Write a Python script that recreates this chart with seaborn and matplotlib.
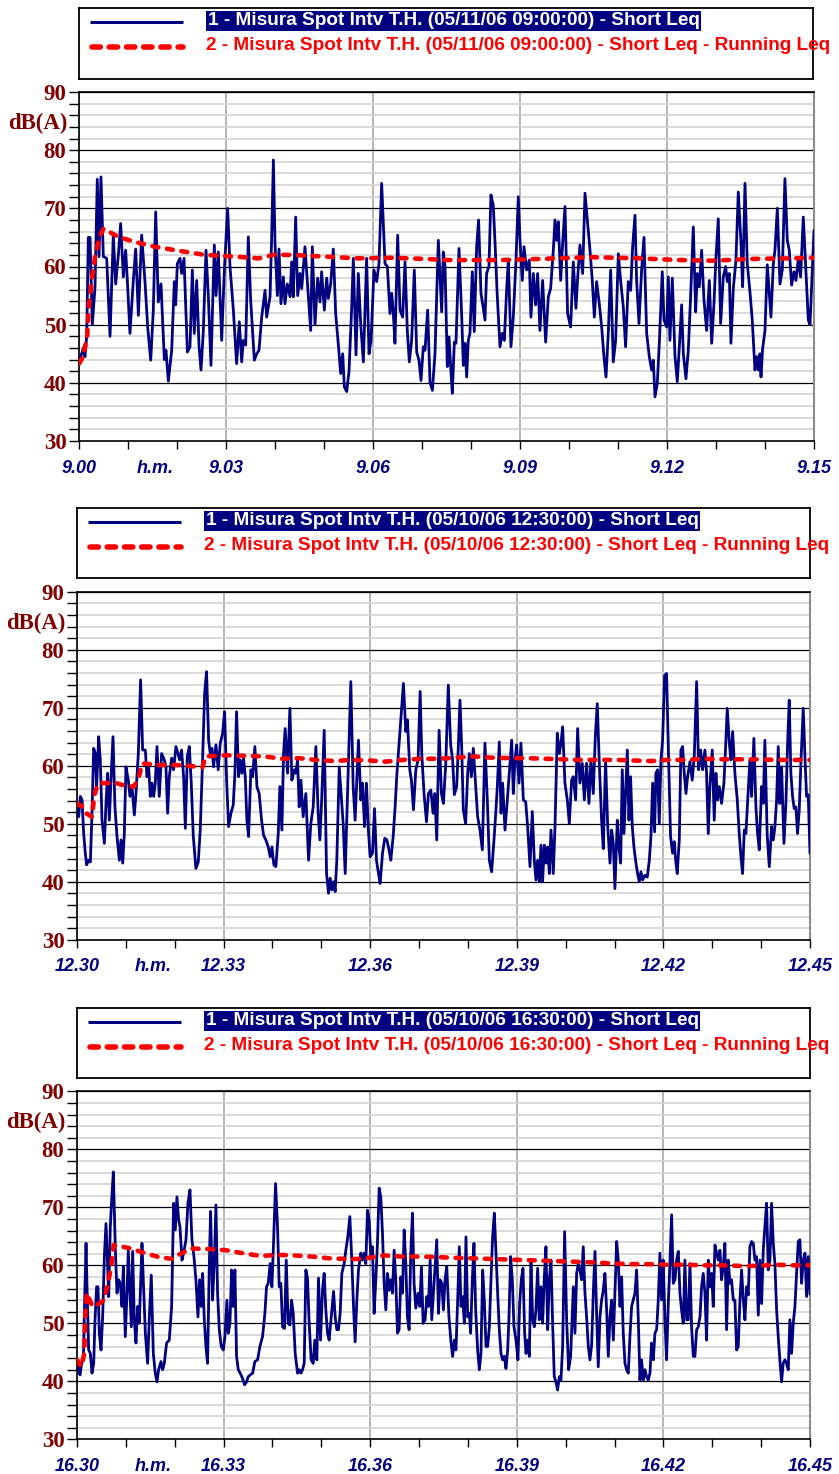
import numpy as np
import matplotlib
matplotlib.use("Agg")
import matplotlib.pyplot as plt
import seaborn as sns
from matplotlib.ticker import FixedLocator, FixedFormatter, MultipleLocator, NullFormatter

# ---------------- data (seconds from start, dB(A)) ----------------
# Panel 1 : 05/11/06 09:00:00
t1 = [0,3.3,5.3,7.3,9.4,11.4,13.5,16.3,19.6,22.4,
      24.5,26.9,29.8,33.9,38,42,44.9,48.2,51,54.3,
      57.1,59.2,62.4,66.5,69.4,72.7,76.7,80.8,84.1,87.8,
      91,93.9,97.1,100.4,104.5,106.5,109.4,113.5,116.7,118.4,
      120.4,123.7,125.7,128.6,132.7,135.9,138.8,141.2,144.1,146.9,
      149.4,152.2,155.5,158.4,161.6,165.7,167.8,170.6,174.7,178,
      182,184.9,189,193,196.3,199.2,201.2,204.1,207.3,210.2,
      214.7,217.6,220.4,223.7,227.8,229.8,233.9,235.9,238,240,
      242.9,244.9,247.3,250.2,252.2,255.1,258.4,260.4,262.4,265.3,
      267.8,270.6,272.7,276.7,280.8,283.7,285.7,289,292.2,295.1,
      297.1,300.4,303.3,305.3,308.2,311.4,314.3,317.6,320.4,322.9,
      324.9,327.8,330.6,333.9,335.9,339.2,342,344.9,348.2,352.2,
      355.1,357.6,361.2,364.5,367.3,370.6,374.7,377.6,380.8,382.9,
      384.9,386.9,390.2,393.1,396.3,399.2,402,404.5,407.3,410.6,
      413.5,416.3,418.8,421.6,423.7,426.9,429.8,432.7,435.9,440,
      444.1,446.1,448.2,451,453.1,455.1,457.1,459.6,461.6,465.3,
      468.5,470.6,472.6,474.7,476.7,478.7,481.6,484,486.9,489.3,
      492.2,494.2,497.1,499.1,502,504.4,507.3,509.3,512.2,515.5,
      518.3,520.8,523.6,525.7,528.9,531.8,535.1,537.9,540,542.8,
      544.9,548.1,551.4,553.4,556.3,559.1,561.6,564.4,567.7,571.4,
      574.7,577.5,580.8,582.8,584.9,586.9,589.8,592.2,595.1,598.3,
      602,605.3,608.5,610.6,613.4,616.7,619.6,622.4,625.7,628.5,
      631,633.8,637.1,640,642.8,645.3,648.1,651,654.2,657.1,
      660.4,663.2,666.5,669.3,672.6,675.5,677.9,680.8,682.8,685.7,
      688.9,691.8,695.1,698.3,701.2,703.2,705.3,708.1,710.6,714.2,
      716.3,719.6,721.6,723.6,726.5,729.8,732.6,735.1,737.9,740,
      743.2,746.1,748.9,752.2,755.1,757.1,759.6,762.4,765.3,768.5,
      771.8,774.7,777.5,780,782.8,785.7,788.9,791.8,793.8,796.3,
      798.3,801.2,804.4,807.3,810.6,812.6,815.5,818.3,821.6,824.4,
      827.7,829.8,831.8,833.8,835.1,837.1,840,842.8,845.3,847.3,
      850.2,852.2,855.1,858.3,861.2,864.4,867.3,869.7,872.6,875.5,
      877.9,880.8,883.6,886.9,890.2,893,895.1,900]
v1 = [44,45,46,44.5,48,65,65,50,56.5,75,
      61.7,75.4,61.7,61.4,48,65.4,57,62,67.4,58.2,
      62.8,57.6,48.5,57.6,63,51.6,65.4,57.4,49.6,43.9,
      52.5,69.4,53.9,57,44,45.6,40.3,45.6,57.4,53.4,
      60.5,61.4,58.8,61.4,45.3,46.2,59.4,48.5,57.6,46.5,
      42.2,48.8,62.8,54.8,43,63.7,55,62.5,47.3,59.4,
      70,60,52.5,43.3,50.5,43.6,47.3,46.5,65.1,54.2,
      43.9,45,45.6,51.3,55.9,51.3,54.8,65,78.3,64,
      55,63,53.6,58.2,53.6,57,54.8,60.8,54.8,68.5,
      55,58.8,56.2,63.4,54.8,49,63.4,50,58,53.9,
      59.1,52.5,58,54.5,57,63,51.9,46.5,41.6,45,
      39.3,38.5,41.9,53,61.4,44.8,58.8,50.2,43.6,61.4,
      45,47.3,59.4,57.4,60.5,74.3,60.5,60,51.9,55.4,
      51.9,46.8,65.4,52.5,51.3,60.8,49,43.6,47.3,59.4,
      45.3,43.9,40.4,46.2,45.6,52.5,40.1,38.7,45,64.5,
      52.2,62.5,60,42.8,47.9,42.8,38.2,47,46.8,63.1,
      51.9,43,46.8,41,47.3,48.5,59.1,48.8,63.4,68,
      55.4,53.6,50.8,58.8,60,72.3,70.5,64.5,54.8,46.2,
      48.5,47.3,55.9,61.1,46.2,51.3,61.1,72,64.5,57.6,
      63.4,59.4,61.1,51.3,58.8,53.4,58.8,49,57.6,47,
      54.8,56.2,62.8,68,64.5,67.7,57.6,64,70.3,51.9,
      49.6,60.8,52.8,58,63.7,58.8,72.6,68.2,62.8,57.6,
      51.3,57.4,53.6,49.6,44.5,41,48.5,59.4,43.6,47.3,
      62.2,57.6,53,46.2,57.4,55.9,63.4,68.8,57.6,50.2,
      59.4,65,48.5,44.5,42.2,43.9,37.6,39.9,46.8,59.1,
      50.8,49.6,58.2,47.3,58,44.5,40.2,46.2,53.4,45,
      40.7,45.6,54.8,66.8,52.2,58.8,56.5,62.8,54.2,49,
      57.6,46.8,53.6,61.7,68.2,50.2,58.2,60,57.4,58.8,
      46.8,56.2,61.1,72.8,64,56.5,74.3,60.5,55.6,50.8,
      42.2,44.5,42.2,45,41,45.9,49,60.3,55.4,51.3,
      60.5,62.8,70,57,59.4,75.1,64.5,62.8,56.8,59.1,
      57.6,61.4,58.2,68.5,58.8,50.8,50,66.2]
r1_t = [0,5,10,12,15,20,25,30,48,69,93,118,154,191,220,238,260,301,342,383,
        424,452,515,564,626,687,736,777,822,871,900]
r1_v = [43.3,44.5,48,53,57,62,65,66.5,65.1,64.2,63.4,62.8,62.0,61.7,61.4,62.0,62.0,61.7,61.4,61.5,
        61.3,61.1,61.1,61.3,61.6,61.4,61.1,61.0,61.3,61.4,61.5]

# Panel 2 : 05/10/06 12:30:00
t2 = [0,2.1,4.1,6.2,8.2,10.2,11.9,14.3,16.4,18.4,
      20.5,22.5,24.1,26.6,28.6,30.7,33.6,35.6,37.6,39.7,
      41.7,44.2,46.6,49.1,52,54,56.1,58.1,60.1,63,
      65,67.5,70.4,72.4,75.3,78.1,80.6,83.9,85.9,88,
      90,92,94.1,96.1,98.2,101,103.9,107.2,109.2,111.3,
      113.3,116.2,118.6,121.5,124,126,128.4,130.9,133,135.4,
      137.9,140.3,142.8,146,148.9,151.3,154.2,156.7,159.1,161.6,
      163.6,165.7,167.7,170.6,173.4,175.9,178.8,181.2,183.7,186.1,
      189,191.8,193.9,195.9,198.4,200.4,202.5,204.5,206.6,208.6,
      210.7,213.5,215.6,218.4,220.9,223.7,226.6,229.1,231.9,234.8,
      237.2,239.3,241.7,244.2,247.1,249.1,251.6,253.6,255.6,258.5,
      261.4,263.8,266.7,268.7,270.8,272.8,274.9,277.7,281,284.3,
      287.1,290,293.3,296.1,298.2,300.6,303.5,306.4,308.8,310.9,
      312.9,315,317,319,322,324.8,326.8,329.3,332.1,334.2,
      336.2,339.1,341.5,343.6,345.6,348.5,350.5,353,355.4,357.5,
      359.9,362.8,365.3,367.7,370.2,372.2,375.1,377.9,380.4,382.4,
      385.3,388.2,390.6,392.7,395.5,398.4,400.8,403.7,405.7,408.6,
      410.6,413.1,416,418.8,421.3,423.3,426.2,429.1,431.5,434.4,
      437.2,439.3,441.7,444.6,447.5,449.9,452.8,455.9,458.8,461.2,
      463.3,466.2,468.2,470.2,472.3,474.3,477.2,479.7,481.7,484.2,
      486.6,489.5,491.9,494.8,497.7,500.9,503.8,506.3,509.1,512,
      514.4,516.1,518.5,520.6,522.6,525.5,528.4,530.8,533.7,535.7,
      537.8,539.8,542.7,545.1,548,550.9,553.3,556.2,559,561.5,
      563.5,565.6,567.6,569.7,571.7,573.8,575.8,577.9,579.9,582,
      584.8,586.9,589.7,592.2,594.2,596.3,599.1,602,604.5,607.3,
      609.4,612.2,614.7,617.5,620.4,622.9,625.7,628.6,631,633.9,
      636.4,638.8,641.3,644.1,646.2,649,651.5,654.4,656.4,658.5,
      660.5,663.4,665.4,667.5,669.5,671.6,673.6,675.7,677.7,679.7,
      681.8,683.8,686.3,688.3,690.4,692.4,694.5,697.3,700.2,702.7,
      704.7,706.8,709.2,710.8,712.9,714.9,717,719,721.5,723.9,
      726.4,728.8,731.3,733.3,735.4,737,739.5,741.5,743.6,745.6,
      747.7,749.7,752.6,755.4,757.9,760.8,763.2,765.7,768.1,771,
      773,775.1,777.1,780,782.4,784.5,786.5,788.6,791.4,794.3,
      796.4,798.4,800.9,802.9,805,807.8,810.7,813.1,815.2,817.2,
      819.3,821.3,824.2,826.2,828.3,831.1,833.6,835.6,837.7,840.5,
      842.6,844.6,847.5,850,852.8,854.9,856.9,859,861,863,
      865.1,868,870.4,872.5,874.5,876.5,878.6,880.6,882.7,884.7,
      886.8,888.8,891.7,894.1,895.8,897.8,900]
v2 = [52.1,51.2,54.7,54.1,48.3,44.9,42.9,43.7,43.4,51.8,
      63,62.1,56.4,65,61,50.6,46.6,53.5,58.7,50.6,
      57.5,65,52.9,47.8,43.7,47.2,43.2,48.3,59.8,57.5,
      54.7,56.4,51.5,55.2,62.1,74.8,62.7,62.7,58.1,59.8,
      54.7,57,54.7,57,63.3,54.7,62.1,61,59.8,51.8,
      58.1,61.3,59.3,63.3,62.1,61,62.7,58.1,49.2,61.6,
      63.3,57,47.8,42.3,43.4,48.9,61,72.5,76.2,64.4,
      62.1,63,59.8,63.6,59.3,63.9,65.6,69.3,57.5,49.5,
      51.8,53.2,58.7,69.3,58.1,61,58.7,61.3,58.1,50.6,
      47.8,59.3,58.1,63.3,56.4,55.2,50.6,48,47.2,46,
      44.3,46,42.9,42.6,48.3,56.4,48.9,62.1,66.4,58.7,
      69.9,57.5,59.3,58.7,61,52.9,57.5,51.2,55.2,43.7,
      50,52.9,63.3,51.8,47.2,54.7,66.1,41.4,38,40.6,
      38.6,40,38.3,43.7,59.8,54.1,50,41.4,55.2,65,
      74.5,56.4,50.6,57.5,64.4,54.1,57,49.5,57,49.5,
      44.3,44.9,52.6,43.7,41.4,39.7,44.9,47.5,47.2,46,
      43.7,47.8,52.9,58.4,63.9,69.6,74.2,65.9,67.9,59.3,
      57.5,52.4,59.3,61,72.8,62.1,55,50.3,55.2,55.8,
      51.8,55.2,47.2,66.1,55.2,53.5,60.4,73.9,63.6,61,
      55,56.4,63.3,71.3,63.3,52.4,50,58.7,62.1,58.1,
      63,56.4,51.2,48.9,45.5,63.9,54.1,43.7,41.7,47.2,
      52.4,56.4,64.1,51.8,57,48.9,54.1,58.7,64.4,55.2,
      61,63.6,57,63.9,54.1,53.8,49.5,42.6,52.1,43.7,
      40.3,43.7,40,46.3,40,46.3,43.2,46,41.4,48.9,
      41.4,49.5,65.6,62.1,63.9,66.7,57,54.1,50,57.5,
      58.1,54.1,66.4,57,60.4,54.1,60.4,53.5,61,55.2,
      65,70.7,60.4,50.6,45.7,61,50,43.2,48.9,46.6,
      38.8,50.6,46,43.2,59.3,48.3,55.2,62.7,50.6,58.1,
      49.5,46,43.2,41.4,40,41.7,40.3,41.1,40.8,43.7,
      47.8,57,48.6,58.7,59.3,50,61,64.4,75.6,75.9,
      61,47.8,44.9,46.9,43.2,41.4,47.2,62.7,63.3,58.7,
      55.2,58.1,60.7,57.5,61.6,74.5,59.3,62.7,59.3,62.7,
      58.7,48.3,56.4,62.7,50.6,58.7,54.1,56.4,53.5,57,
      63.3,69.9,63.9,61,65.9,58.7,54.1,48.3,44.3,41.4,
      48.9,48.3,55.8,61,54.7,64.7,52.9,48.3,45.5,56.4,
      53.5,64.4,47.8,42.6,49.5,47.2,49.5,54.1,63.3,53.5,
      59.8,46.6,53.5,63.9,71.3,58.7,54.7,52.6,52.9,48.3,
      52.4,60.4,69.9,60.4,54.7,55,44.9]
r2_t = [0,7,11,18.5,21,25,31,48,60,70,76,80,101,130,154,158,183,207,230,252,
        273,293,316,336,359,379,400,424,445,466,487,507,532,552,575,597,618,640,663,683,
        706,724,748,769,793,814,836,857,879,900]
r2_v = [53.5,52.9,51.8,51.2,54.7,56.7,57,57,56.5,56.4,58.1,60.4,60.1,60.1,59.7,61.6,61.8,61.7,61.6,61.2,
        61.3,61,60.8,61,60.9,60.7,61,61.2,61.2,61.4,61.6,61.4,61.3,61.3,61.2,61.1,61,61,61,60.9,
        60.8,61,61,61.2,61.1,61.1,61.1,61,61,61]

# Panel 3 : 05/10/06 16:30:00
t3 = [0,2.1,3.7,5.7,7.8,9.4,11.1,12.7,14.3,16.4,
      18.4,20.5,22.1,24.1,25.8,27.4,29.5,31.5,33.6,35.6,
      37.2,38.9,40.9,42.6,44.6,47.1,49.1,51.1,53.2,55.2,
      56.9,59.3,61.4,63,65,66.7,68.3,70.4,72.4,74.5,
      76.5,79.8,81.4,83.9,86.7,88.8,91.2,93.7,96.1,98.2,
      100.2,103.1,105.1,107.2,110,113.3,116.2,118.6,120.7,122.7,
      124.8,126.4,128.9,130.9,133.8,136.2,138.7,141.1,143.6,146,
      148.5,150.5,152.6,154.2,156.3,158.3,160.3,162.4,164,166.5,
      168.5,170.6,172.6,174.7,177.1,179.6,181.6,184.1,185.7,187.8,
      189.8,191.8,193.9,195.9,198,200.4,203.3,205.7,208.2,210.2,
      212.7,215.6,218.4,221.7,224.6,227.8,230.7,232.7,234.8,237.2,
      239.3,241.3,243.8,246.2,248.3,250.3,252.4,254.8,256.9,259.3,
      261.4,263.4,265.5,267.9,270.8,272.8,274.9,276.9,279,281,
      283,285.1,287.5,290,292,294.5,296.5,299,301.4,303.5,
      305.5,307.6,309.6,312.5,315,317,319,321.1,323.1,325.2,
      328,330.1,332.5,335,337.4,339.5,341.5,343.6,345.6,348.5,
      350.5,352.6,354.6,356.7,358.7,360.8,362.8,364.8,366.9,368.9,
      371,373,375.1,377.1,379.2,381.2,383.2,385.3,387.3,389.4,
      391.4,393.5,395.5,397.6,399.6,401.7,403.7,405.7,407.8,409.8,
      411.9,413.9,416,418.8,420.9,422.9,425,427.4,429.5,431.5,
      433.6,435.6,437.6,439.7,441.7,443.8,445.8,447.9,449.9,451.9,
      454,456.7,459.2,461.2,463.3,465.3,467.4,469.4,471.5,473.5,
      475.6,477.6,479.7,481.7,483.3,485.4,487.4,489.5,491.9,494,
      496,498.1,500.1,502.2,504.2,506.3,508.3,510.3,512.4,514.4,
      516.5,518.5,520.6,522.6,524.7,526.7,528.8,530.4,532.4,534.5,
      536.5,539,541.4,543.5,545.5,547.6,549.6,551.3,553.3,555.4,
      557.4,559.5,561.5,563.5,565.6,567.6,569.7,571.7,573.8,575.8,
      577.9,579.9,582,584,586,588.1,590.1,592.2,594.2,596.3,
      598.7,601.2,603.6,606.1,608.1,609.4,611.4,613.5,615.5,617.5,
      619.6,621.6,623.7,625.7,627.8,629.8,631.9,633.9,636,638,
      640,642.1,644.1,646.2,648.2,650.3,652.3,654.4,656.4,658.5,
      660.5,662.6,664.6,666.7,668.7,670.7,672.8,674.8,676.9,678.9,
      681,683,685.1,687.1,689.2,691.2,693.2,695.3,697.3,699.4,
      701.4,703.5,705.5,707.6,709.6,711.7,713.7,715.7,717.8,719.8,
      721.9,723.9,726,728,730.1,732.1,734.2,736.2,738.3,740.3,
      742.3,744.4,746.4,748.5,750.5,752.6,754.6,756.7,758.7,760.8,
      762.8,764.9,766.9,768.9,771,773,775.1,777.1,779.2,781.2,
      783.3,785.3,787.4,789.4,791.4,793.5,795.5,797.6,799.6,801.7,
      803.7,805.8,807.8,809.9,811.9,814,816,818.1,820.1,822.1,
      824.2,826.2,828.3,830.3,832.4,834.4,836.5,838.5,840.6,842.6,
      844.6,846.7,848.7,850.8,852.8,854.9,856.9,859,861,863,
      865.1,867.1,869.2,871.2,873.3,875.3,877.4,879.4,881.5,883.5,
      885.6,887.6,889.7,891.7,893.8,895.8,897.8,900]
v3 = [43.7,42,41.1,43.1,43.7,54,63.8,54,45.4,44.8,
      41.4,43.1,50.6,56.3,56.3,48.3,45.4,51.1,61.5,67.2,
      61.5,54.6,66.7,71.3,76.1,62.6,55.2,57.5,56.9,52.9,
      59.8,47.7,55.2,62.6,55.2,49.4,62.4,50.6,46.6,52.9,
      50,63.8,57.5,48.3,43.1,51.1,58.3,44.8,41.4,39.9,
      42,43.4,42,43.1,46.6,47.1,52.9,70.7,66.1,71.8,
      67.8,66.7,60.9,62.1,64.4,70.7,73,64.4,61.5,57.5,
      51.1,57.5,52.9,58.6,50.6,46,43.1,59.8,69.3,54,
      60.3,70.4,55.2,48.9,46,45.4,47.7,54,48.3,50,
      59.2,52.9,59.2,44.3,42,41.4,40.5,39.4,39.9,40.8,
      41.1,41.4,43.4,43.7,46,47.7,51.7,56.3,56.9,60.3,
      56.3,63.8,74.1,66.7,56.3,56.9,49.4,49.1,60.9,50,
      49.7,54,51.7,44.8,41.4,42,41.4,42,43.1,59.2,
      57.8,50,43.7,43.1,47.1,43.7,57.8,47.1,55.7,58.6,
      52.3,48.3,47.1,51.7,55.5,51.1,48.9,48.9,51.7,58.6,
      60.3,62.6,64.9,68.4,60.9,52.9,46.8,54,59.2,62.1,
      60.9,62.1,60.3,69.5,67.8,61.5,63.2,51.7,57.5,63.8,
      73.3,71.8,65.5,56.9,52.3,58.6,55.7,57.5,55.2,62.6,
      57.5,48.3,48.9,58,55.2,66.1,60.3,51.1,48.9,62.1,
      69,56.9,52.6,55.2,52.9,59.8,50,50.6,54.6,52.9,
      60.9,50.6,55.2,59.8,64.4,51.7,57.5,56.9,52.3,57.5,
      59.8,51.1,46.8,44.3,47.1,45.4,54,63.2,52.9,54.6,
      50,64.9,51.1,51.7,48.3,57.5,63.8,52.3,45.4,42,
      44.8,59.2,54,46,46,49.4,57.5,64.9,69,62.1,
      55.2,48.9,44.8,43.7,44.3,42.2,45.4,51.1,61.5,57.5,
      49.4,47.1,43.7,53.4,57.5,59.5,48.3,44.8,47.1,44.3,
      60.9,50.6,49.4,52.3,59.5,50.6,56.3,50,58,63.2,
      48.9,57.5,60.9,50,40.8,39.9,38.5,40.8,40.2,46,
      65.8,50.6,42,44.3,51.7,56.3,48.3,58.6,60.3,59.2,
      57.5,63.2,55.2,51.1,46,43.7,46.3,55.2,62.4,51.7,
      42.5,51.1,54,55.7,58.6,52.3,44.3,51.1,54,47.1,
      55.2,64.1,60.9,52.9,58,48.3,43.1,42,41.4,47.7,
      52.9,54,55.2,59.2,50.6,40.2,43.7,40.2,42,40.8,
      40.2,41.4,46.6,43.7,48.3,48.9,54,62.1,54,60.9,
      50.6,43.7,53.4,60.3,68.7,56.9,57.5,60.9,62.4,55.2,
      52.3,50,60.9,50.6,50.6,60.3,49.4,44.3,44.3,48.9,
      49.4,51.1,56.3,58.6,55.2,47.1,60.9,56.3,58.6,52.9,
      63.5,62.1,60.9,62.6,57.5,59.8,63.8,48.9,60.9,56.9,
      57.5,54,54,45.4,46,54,59.2,54,50.6,56.3,
      54.9,63.2,64.1,63.8,60.9,61.5,51.4,60.9,53.4,62.6,
      66.7,70.7,59.2,60.9,70.7,63.8,60.3,52.3,47.7,43.7,
      39.9,43.1,43.7,43.1,42,50.6,44.8,50,52.9,58.6,
      64.1,64.4,56.9,60.9,62.1,54.6,61.5,55]
r3_t = [0,5,9,10,12,19,25,33,38,42,45,56,66,81,101,117,126,140,162,183,
        203,226,246,267,289,310,330,350,377,398,420,445,462,487,507,528,550,572,593,614,
        636,658,681,703,724,746,769,791,814,836,857,877,900]
r3_v = [43.7,42.5,44.8,51.1,55.2,52.9,53.2,54,56.9,59.8,63.5,63.2,62.9,62.2,61.4,61.1,61.9,62.9,62.8,62.6,
        62.1,61.6,61.8,61.7,61.5,61.2,61.1,61.1,61.7,61.5,61.5,61.4,61.3,61.2,61.1,61,60.9,60.8,60.7,60.6,
        60.5,60.3,60.2,60.2,60.1,60.1,60,60,59.9,59.9,60.1,60,60]

# tick labels / texts
xt1 = ['9.00', '9.03', '9.06', '9.09', '9.12', '9.15']
xt2 = ['12.30', '12.33', '12.36', '12.39', '12.42', '12.45']
xt3 = ['16.30', '16.33', '16.36', '16.39', '16.42', '16.45']
ylabels = ['30', '40', '50', '60', '70', '80', '90']
stamps = ['05/11/06 09:00:00', '05/10/06 12:30:00', '05/10/06 16:30:00']
unit_x = 'h.m.'
unit_y = 'dB(A)'

for a, b in [(t1, v1), (t2, v2), (t3, v3), (r1_t, r1_v), (r2_t, r2_v), (r3_t, r3_v)]:
    assert len(a) == len(b), (len(a), len(b))

# ---------------- drawing ----------------
sns.set_theme(style='ticks')
plt.rcParams['font.family'] = ['Liberation Sans', 'DejaVu Sans']

W, H = 839, 1474
NAVY = '#000080'
DARKRED = '#800000'
RED = '#ff0000'
XTICK_LEN, XTICK_PAD = 5.5, 8.0

fig = plt.figure(figsize=(W / 100, H / 100), dpi=100)
fig.patch.set_facecolor('white')


def rect(x0, y0, x1, y1):
    return [x0 / W, 1 - y1 / H, (x1 - x0) / W, (y1 - y0) / H]


layout = [
    dict(ax=(79, 92, 814, 441), leg=(79, 8, 813, 79)),
    dict(ax=(77, 591.7, 810, 939.7), leg=(77, 508, 810, 578)),
    dict(ax=(77, 1091.3, 810, 1439.3), leg=(77, 1008, 810, 1078)),
]
series = [(t1, v1, r1_t, r1_v, xt1), (t2, v2, r2_t, r2_v, xt2), (t3, v3, r3_t, r3_v, xt3)]

for i, (t, v, rt, rv, xl) in enumerate(series):
    L = layout[i]
    ax = fig.add_axes(rect(*L['ax']))
    ax.set_facecolor('white')
    sns.lineplot(x=np.asarray(t) / 60.0, y=v, ax=ax, color=NAVY, lw=2.0,
                 estimator=None, sort=False, legend=False, zorder=3)
    sns.lineplot(x=np.asarray(rt) / 60.0, y=rv, ax=ax, color=RED, lw=3.3,
                 linestyle=(0, (1.3, 1.9)), dash_capstyle='round',
                 estimator=None, sort=False, legend=False, zorder=4)
    ax.set_xlim(0, 15)
    ax.set_ylim(30, 90)
    ax.set_xlabel('')
    ax.set_ylabel('')

    # y axis
    ax.yaxis.set_major_locator(FixedLocator([30, 40, 50, 60, 70, 80, 90]))
    ax.yaxis.set_major_formatter(FixedFormatter(ylabels))
    ax.yaxis.set_minor_locator(MultipleLocator(2))
    # x axis
    ax.xaxis.set_major_locator(FixedLocator([0, 3, 6, 9, 12, 15]))
    ax.xaxis.set_major_formatter(FixedFormatter(xl))
    ax.xaxis.set_minor_locator(FixedLocator([1, 2, 4, 5, 7, 8, 10, 11, 13, 14]))
    ax.xaxis.set_minor_formatter(NullFormatter())

    ax.grid(axis='y', which='minor', color='#d4d4d4', lw=1.2)
    ax.grid(axis='y', which='major', color='black', lw=0.9)
    ax.grid(axis='x', which='major', color='#a8a8a8', lw=1.2)
    ax.set_axisbelow(True)

    ax.tick_params(axis='y', which='both', direction='out', length=7, width=1,
                   color='black', left=True, right=False, pad=2)
    ax.tick_params(axis='x', which='both', direction='out', length=XTICK_LEN, width=1,
                   color='black', bottom=True, top=False, pad=XTICK_PAD)
    for lab in ax.get_yticklabels():
        lab.set_fontfamily(['Liberation Serif', 'DejaVu Serif'])
        lab.set_fontweight('bold')
        lab.set_fontsize(16.5)
        lab.set_color(DARKRED)
    for lab in ax.get_xticklabels():
        lab.set_fontweight('bold')
        lab.set_fontstyle('italic')
        lab.set_fontsize(13)
        lab.set_color(NAVY)

    # time unit label between first two major ticks
    ax.annotate(unit_x, xy=(1.55, 0), xycoords=('data', 'axes fraction'),
                xytext=(0, -(XTICK_LEN + XTICK_PAD)), textcoords='offset points',
                ha='center', va='top', fontsize=13, fontweight='bold',
                fontstyle='italic', color=NAVY, annotation_clip=False)

    for s in ax.spines.values():
        s.set_color('black')
        s.set_linewidth(1.2)
    ax.spines['right'].set_color('#8c8c8c')
    ax.spines['right'].set_linewidth(1.5)

    ax.annotate(unit_y, xy=(0, 84.6), xycoords=('axes fraction', 'data'),
                xytext=(-8, 0), textcoords='offset points', ha='right', va='center',
                fontsize=16.5, fontweight='bold', color=DARKRED,
                family=['Liberation Serif', 'DejaVu Serif'], annotation_clip=False)

    # legend box
    bx0, by0, bx1, by1 = L['leg']
    bw, bh = bx1 - bx0, by1 - by0
    lax = fig.add_axes(rect(*L['leg']))
    lax.set_xlim(0, 1)
    lax.set_ylim(0, 1)
    lax.set_xticks([])
    lax.set_yticks([])
    lax.set_facecolor('white')
    for s in lax.spines.values():
        s.set_color('black')
        s.set_linewidth(1.3)
    fx = lambda px: px / bw
    fy = lambda py: 1 - py / bh
    lax.plot([fx(11), fx(104)], [fy(13.7)] * 2, color=NAVY, lw=2.2,
             solid_capstyle='butt')
    lax.plot([fx(13), fx(104)], [fy(38.7)] * 2, color=RED, lw=4.0,
             linestyle=(0, (1.5, 1.6)), dash_capstyle='round')
    lab1 = '1 - Misura Spot Intv T.H. (%s) - Short Leq' % stamps[i]
    lab2 = '2 - Misura Spot Intv T.H. (%s) - Short Leq - Running Leq' % stamps[i]
    lax.text(fx(128.5), fy(12.7), lab1, color='white', fontweight='bold',
             fontsize=13.65, ha='left', va='center',
             bbox=dict(boxstyle='square,pad=0.08', fc=NAVY, ec='none'))
    lax.text(fx(127.5), fy(37.5), lab2, color=RED, fontweight='bold',
             fontsize=13.65, ha='left', va='center', clip_on=False)

fig.savefig('out.png', dpi=100, facecolor='white')
